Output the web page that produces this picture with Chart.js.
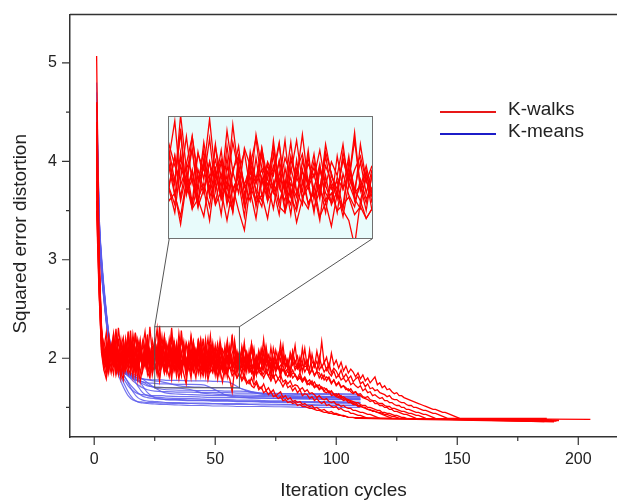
<!DOCTYPE html>
<html lang="en">
<head>
<meta charset="UTF-8">
<title>K-walks vs K-means</title>
<script src="https://cdn.jsdelivr.net/npm/chart.js"></script>
<style>
  body { margin: 0; background: #fff; }
  #wrap { position: relative; width: 617px; height: 504px; overflow: hidden; }
  #inset { position: absolute; border: 1px solid #707070; background: #e8fbfb; }
  #inset canvas { display: block; }
  .lg-line { position: absolute; left: 440px; width: 56px; height: 1.5px; }
  .lg-text { position: absolute; left: 508px; font: 19px 'Liberation Sans', Arial, sans-serif; line-height: 22px; color: #222; white-space: nowrap; }
</style>
</head>
<body>
<div id="wrap">
  <canvas id="main" width="617" height="504"></canvas>
  <div id="inset"><canvas id="zoom"></canvas></div>
  <div class="lg-line" style="top:111px; background:#e81818;"></div>
  <div class="lg-text" style="top:98px;">K-walks</div>
  <div class="lg-line" style="top:133px; background:#1c1cc8;"></div>
  <div class="lg-text" style="top:120px;">K-means</div>
</div>
<script>
// K-walks runs: squared error at iteration 1, 2, 3, ...
const kw01 = [5.07,3.02,2.21,2.05,1.93,2.12,1.98,2.17,1.91,2.06,
  1.89,2.14,2.01,2.22,1.94,2.08,1.87,2.03,2.19,1.96, 2.11,1.92,2.06,1.85,2.15,1.99,2.24,1.93,2.05,1.88,
  2.09,1.95,2.18,1.90,2.02,1.84,2.12,1.97,2.07,1.86, 2.01,1.93,2.13,1.88,1.99,1.82,2.05,1.91,1.96,1.85,
  1.95,1.88,1.93,1.84,1.87,1.91,1.82,1.86,1.80,1.85, 1.79,1.83,1.77,1.74,1.80,1.73,1.77,1.71,1.69,1.74,
  1.67,1.70,1.65,1.68,1.62,1.64,1.66,1.60,1.62,1.58, 1.60,1.56,1.57,1.55,1.56,1.53,1.54,1.52,1.51,1.52,
  1.49,1.50,1.48,1.47,1.48,1.46,1.45,1.46,1.44,1.44, 1.43,1.42,1.42,1.41,1.40];
const kw02 = [4.30,2.88,2.34,1.97,2.16,1.92,2.08,2.25,1.95,2.03,
  2.19,1.90,2.10,1.98,2.28,1.94,2.07,1.89,2.15,2.02, 1.93,2.20,2.05,1.91,2.11,2.30,1.97,2.06,1.88,2.14,
  2.00,2.21,1.94,2.09,1.87,2.03,2.17,1.92,2.05,1.98, 2.13,1.89,2.04,2.19,1.93,2.01,1.86,2.10,1.96,2.03,
  1.90,2.12,1.95,1.99,1.85,2.06,1.93,1.97,1.88,2.02, 1.93,1.87,1.96,1.90,1.85,1.92,1.83,1.88,1.86,1.80,
  1.86,1.82,1.77,1.83,1.75,1.79,1.76,1.71,1.76,1.70, 1.72,1.67,1.70,1.65,1.68,1.62,1.64,1.63,1.59,1.61,
  1.57,1.59,1.56,1.54,1.56,1.52,1.53,1.51,1.50,1.51, 1.48,1.49,1.47,1.46,1.46,1.44,1.44,1.43,1.42,1.42,
  1.41,1.40,1.39];
const kw03 = [3.90,2.95,2.18,2.02,1.88,2.07,1.95,1.84,2.10,1.97,
  2.04,1.86,2.16,1.92,1.99,1.81,2.08,1.94,2.13,1.87, 2.01,1.90,2.06,1.83,1.96,2.12,1.89,2.03,1.85,1.98,
  2.15,1.91,1.99,1.82,2.07,1.94,2.02,1.88,2.10,1.93, 1.86,2.04,1.96,2.09,1.84,1.98,1.91,2.05,1.87,1.95,
  2.08,1.89,1.97,1.83,2.03,1.92,1.86,2.00,1.90,1.96, 1.84,2.01,1.89,1.94,1.85,1.95,1.88,1.92,1.86,1.84,
  1.90,1.82,1.87,1.80,1.84,1.79,1.83,1.76,1.78,1.74, 1.77,1.71,1.73,1.72,1.68,1.70,1.66,1.68,1.64,1.65,
  1.63,1.60,1.62,1.59,1.58,1.59,1.56,1.55,1.56,1.53, 1.53,1.51,1.52,1.50,1.49,1.49,1.47,1.47,1.46,1.45,
  1.45,1.44,1.43,1.43,1.42,1.41,1.40,1.39];
const kw04 = [4.60,3.10,2.27,2.11,1.99,2.23,2.04,2.18,1.96,2.31,
  2.08,1.97,2.20,2.03,2.14,1.93,2.26,2.06,1.99,2.17, 2.02,2.24,1.95,2.12,2.07,1.98,2.33,2.05,2.15,1.94,
  2.19,2.01,2.10,1.96,2.25,2.04,1.93,2.16,2.07,2.21, 1.97,2.09,2.02,2.18,1.94,2.12,2.00,2.23,1.98,2.06,
  1.95,2.14,2.03,1.92,2.11,1.99,2.20,1.96,2.07,1.93, 2.09,1.97,2.04,1.90,2.13,1.95,2.02,1.89,2.08,1.97,
  2.03,1.94,1.99,1.91,1.96,1.89,1.93,1.92,1.86,1.90, 1.84,1.88,1.82,1.80,1.85,1.78,1.81,1.76,1.78,1.73,
  1.76,1.71,1.73,1.69,1.70,1.68,1.65,1.67,1.63,1.64, 1.61,1.62,1.59,1.58,1.57,1.56,1.54,1.55,1.52,1.52,
  1.50,1.50,1.48,1.48,1.46,1.46,1.45,1.44,1.43,1.42, 1.41,1.40,1.39];
const kw05 = [3.60,2.70,2.12,1.94,1.83,2.01,1.90,2.09,1.86,1.97,
  1.80,2.04,1.93,1.85,2.11,1.89,1.98,1.78,2.02,1.91, 2.07,1.84,1.96,1.88,2.13,1.92,1.81,2.00,1.87,2.05,
  1.95,1.79,2.03,1.90,1.97,1.83,2.08,1.86,1.94,1.80, 2.01,1.89,1.95,1.82,2.06,1.91,1.84,1.99,1.88,1.93,
  1.79,2.02,1.87,1.94,1.81,1.98,1.90,1.85,2.04,1.88, 1.92,1.80,1.97,1.86,1.91,1.78,1.99,1.87,1.83,1.95,
  1.85,1.90,1.79,1.96,1.86,1.93,1.85,1.89,1.83,1.87, 1.81,1.85,1.84,1.78,1.82,1.76,1.80,1.75,1.73,1.77,
  1.71,1.73,1.69,1.71,1.67,1.69,1.65,1.66,1.64,1.62, 1.64,1.60,1.61,1.59,1.58,1.57,1.56,1.55,1.55,1.53,
  1.52,1.52,1.50,1.50,1.49,1.48,1.47,1.47,1.45,1.45, 1.44,1.44,1.43,1.42,1.42,1.41,1.40,1.40,1.39];
const kw06 = [4.10,2.92,2.26,2.08,1.95,2.17,2.01,1.92,2.21,2.05,
  1.96,2.13,1.90,2.27,2.02,2.10,1.94,2.19,2.06,1.98, 2.15,1.93,2.32,2.04,1.97,2.12,1.91,2.08,2.22,1.99,
  2.06,1.92,2.17,2.01,1.95,2.28,2.03,1.90,2.11,2.00, 2.16,1.94,2.07,1.98,2.20,1.92,2.05,2.13,1.96,2.09,
  1.93,2.18,2.02,1.95,2.10,1.99,2.24,1.94,2.04,1.91, 2.12,1.97,2.06,1.90,2.15,2.00,1.93,2.08,1.96,2.19,
  1.95,2.03,1.89,2.10,1.98,1.92,2.07,1.94,2.01,1.90, 2.02,1.93,1.97,1.90,1.95,1.88,1.92,1.91,1.84,1.89,
  1.83,1.87,1.80,1.84,1.78,1.81,1.79,1.74,1.78,1.72, 1.75,1.70,1.72,1.68,1.69,1.66,1.64,1.66,1.62,1.62,
  1.60,1.59,1.58,1.56,1.57,1.54,1.54,1.52,1.52,1.50, 1.50,1.48,1.48,1.46,1.46,1.45,1.44,1.43,1.43,1.42,
  1.41,1.40,1.39];
const kw07 = [3.80,2.80,2.15,1.99,2.10,1.87,2.03,1.94,2.14,1.89,
  2.00,1.85,2.09,1.96,1.88,2.18,1.93,2.04,1.84,1.99, 1.91,2.12,1.87,2.02,1.95,1.83,2.07,1.97,2.16,1.90,
  1.98,1.86,2.05,1.92,2.11,1.88,1.99,1.81,2.04,1.95, 1.89,2.08,1.93,2.00,1.84,2.06,1.94,1.87,2.12,1.91,
  1.97,1.83,2.03,1.92,1.86,2.09,1.95,1.89,2.01,1.84, 1.99,1.90,2.05,1.87,1.96,1.82,2.02,1.93,1.88,2.07,
  1.91,1.97,1.84,2.00,1.89,1.94,1.80,2.03,1.90,1.95, 1.85,1.98,1.88,1.93,1.86,1.95,1.86,1.91,1.84,1.89,
  1.82,1.86,1.85,1.79,1.83,1.77,1.81,1.75,1.78,1.73, 1.76,1.71,1.72,1.70,1.67,1.69,1.65,1.66,1.63,1.64,
  1.61,1.60,1.61,1.58,1.57,1.57,1.55,1.54,1.54,1.52, 1.51,1.51,1.49,1.49,1.48,1.47,1.46,1.46,1.45,1.44,
  1.44,1.43,1.42,1.42,1.41,1.40,1.39];
const kw08 = [4.40,3.05,2.30,2.06,1.93,2.14,2.00,2.24,1.91,2.07,
  1.98,2.16,1.89,2.05,2.21,1.95,2.09,1.88,2.13,2.01, 1.94,2.19,2.03,1.90,2.08,1.97,2.26,1.92,2.04,1.86,
  2.11,1.99,2.06,1.91,2.17,1.95,2.02,1.87,2.14,1.98, 2.05,1.92,2.20,1.96,1.89,2.10,2.01,1.94,2.15,1.90,
  2.06,1.97,1.88,2.12,1.95,2.03,1.91,2.18,1.99,1.93, 2.08,1.89,2.02,1.96,2.14,1.92,1.98,1.87,2.09,1.95,
  2.01,1.90,2.11,1.94,1.88,2.05,1.97,2.13,1.92,1.99, 1.86,2.07,1.95,2.02,1.89,2.10,1.93,1.98,1.88,2.04,
  1.91,1.97,1.88,1.93,1.86,1.90,1.85,1.82,1.87,1.80, 1.83,1.78,1.80,1.76,1.79,1.73,1.75,1.72,1.70,1.72,
  1.67,1.69,1.65,1.66,1.62,1.63,1.61,1.59,1.60,1.57, 1.57,1.55,1.55,1.53,1.52,1.52,1.50,1.50,1.48,1.48,
  1.47,1.46,1.45,1.45,1.44,1.43,1.43,1.42,1.41,1.40,1.39];
const kw09 = [3.50,2.66,2.09,1.91,2.05,1.86,2.11,1.93,1.99,1.84,
  2.07,1.95,1.88,2.13,1.90,2.02,1.85,1.97,2.10,1.89, 2.04,1.92,1.83,2.08,1.96,1.87,2.14,1.93,2.00,1.86,
  1.95,2.09,1.88,2.03,1.91,1.84,2.06,1.97,1.89,2.11, 1.92,1.98,1.85,2.04,1.94,1.87,2.10,1.90,1.99,1.83,
  2.05,1.93,1.88,2.01,1.95,2.12,1.89,1.97,1.84,2.03, 1.92,1.98,1.86,2.07,1.91,1.95,1.83,2.02,1.94,1.88,
  2.09,1.90,1.96,1.85,2.00,1.93,1.87,2.04,1.91,1.97, 1.84,2.06,1.92,1.89,2.01,1.86,1.98,1.90,2.08,1.88,
  1.95,1.87,2.02,1.91,1.96,1.88,1.95,1.85,1.90,1.87, 1.82,1.88,1.80,1.84,1.79,1.82,1.76,1.79,1.81,1.74,
  1.76,1.71,1.74,1.69,1.70,1.67,1.68,1.65,1.64,1.63, 1.61,1.62,1.59,1.58,1.58,1.56,1.55,1.55,1.53,1.52,
  1.52,1.50,1.50,1.49,1.48,1.47,1.47,1.46,1.45,1.44, 1.44,1.43,1.42,1.41,1.40,1.39];
const kw10 = [4.00,2.85,2.24,2.03,1.92,2.15,1.98,2.08,1.90,2.20,
  1.96,2.05,2.17,1.93,2.09,1.99,2.25,1.94,2.03,1.91, 2.13,2.00,1.95,2.18,2.06,1.92,2.11,1.97,2.22,2.02,
  1.93,2.09,1.98,2.15,1.90,2.05,2.12,1.96,2.01,1.89, 2.16,2.00,1.94,2.10,1.97,2.19,1.93,2.04,1.98,2.13,
  1.92,2.07,1.99,1.90,2.14,2.01,1.95,2.09,1.93,2.05, 1.97,2.16,1.92,2.03,1.96,2.10,1.89,2.06,1.99,1.94,
  2.12,1.95,2.01,1.91,2.08,1.97,2.15,1.93,2.02,1.90, 2.06,1.98,2.13,1.92,2.00,1.95,2.10,1.91,2.04,1.97,
  1.92,2.07,1.94,2.17,1.95,2.01,1.89,2.05,1.93,1.98, 1.90,1.96,1.87,1.92,1.85,1.89,1.86,1.81,1.85,1.79,
  1.83,1.77,1.80,1.75,1.78,1.81,1.73,1.75,1.70,1.72, 1.68,1.69,1.66,1.64,1.65,1.62,1.62,1.60,1.59,1.58,
  1.57,1.56,1.55,1.54,1.53,1.52,1.51,1.50,1.49,1.48, 1.48,1.47,1.46,1.45,1.45,1.44,1.43,1.42,1.41,1.40,1.39];
const kw11 = [3.70,2.74,2.06,1.88,1.79,1.97,1.85,2.02,1.83,1.94,
  1.87,1.78,2.00,1.90,1.84,2.06,1.82,1.95,1.76,1.91, 1.99,1.86,1.80,2.03,1.89,1.93,1.77,1.98,1.85,1.90,
  1.81,2.01,1.87,1.94,1.79,1.96,1.84,1.74,1.97,1.88, 1.92,1.80,1.99,1.86,1.83,1.95,1.78,1.90,1.85,1.97,
  1.81,1.88,1.76,1.93,1.84,1.79,1.66,1.89,1.80,1.85, 1.77,1.81,1.74,1.78,1.72,1.70,1.75,1.68,1.71,1.65,
  1.67,1.63,1.66,1.61,1.62,1.59,1.61,1.57,1.58,1.55, 1.56,1.54,1.55,1.52,1.53,1.51,1.51,1.50,1.49,1.49,
  1.48,1.47,1.47,1.46,1.45,1.45,1.44,1.44,1.43,1.43, 1.42,1.42,1.41,1.41,1.40,1.40,1.40,1.39,1.39];
const kw12 = [4.20,2.98,2.29,2.10,2.26,1.99,2.15,2.04,2.30,1.97,
  2.12,2.21,1.98,2.08,1.95,2.24,2.05,2.16,1.99,2.11, 2.27,2.02,2.09,1.96,2.18,2.07,2.00,2.22,1.98,2.13,
  2.05,2.31,2.01,2.10,1.97,2.19,2.04,2.14,1.95,2.23, 2.06,2.00,2.17,1.96,2.11,2.03,2.20,1.98,2.08,2.01,
  2.15,1.97,2.09,2.02,2.18,1.96,2.05,2.12,1.99,2.07, 1.95,2.10,2.04,1.96,2.08,1.99,1.94,2.03,1.97,1.92,
  2.00,1.93,1.89,1.95,1.88,1.91,1.84,1.89,1.85,1.81, 1.87,1.80,1.83,1.78,1.80,1.76,1.79,1.73,1.75,1.74,
  1.70,1.72,1.68,1.70,1.66,1.65,1.67,1.62,1.63,1.61, 1.60,1.59,1.57,1.58,1.55,1.55,1.53,1.53,1.51,1.51,
  1.50,1.49,1.48,1.47,1.47,1.46,1.45,1.45,1.44,1.43, 1.43,1.42,1.41,1.41,1.40,1.39];
const walkRuns = [kw01, kw02, kw03, kw04, kw05, kw06, kw07, kw08, kw09, kw10, kw11, kw12];
// last iteration of each run and its final error (flat tail)
const walkEnd  = [190, 188, 192, 185, 190, 205, 189, 191, 187, 192, 186, 186];
const walkLast = [1.358, 1.376, 1.366, 1.384, 1.355, 1.38, 1.372, 1.362, 1.388, 1.37, 1.357, 1.381];

// K-means runs, sampled at these iterations
const meansIter = [1,2,3,4,5,6,7,8,9,10,12,14,16,18,20,22,25,28,30,35,40,45,50,55,60,65,70,80,90,100,110];
const km01 = [4.6,3.4,2.95,2.65,2.40,2.20,2.06,1.97,1.91,1.86,1.76,1.66,1.59,1.555,1.545,1.54,1.535,1.53,1.53,1.525,1.52,1.52,1.515,1.515,1.51,1.51,1.51,1.505,1.50,1.50,1.50];
const km02 = [4.4,3.3,2.9,2.62,2.38,2.19,2.05,1.97,1.92,1.89,1.84,1.75,1.66,1.60,1.575,1.565,1.56,1.555,1.55,1.55,1.545,1.545,1.54,1.54,1.54,1.535,1.535,1.53,1.53,1.525,1.525];
const km03 = [4.5,3.45,3.0,2.7,2.45,2.24,2.09,1.99,1.94,1.91,1.88,1.85,1.80,1.72,1.65,1.62,1.605,1.60,1.595,1.59,1.59,1.585,1.58,1.58,1.575,1.575,1.57,1.565,1.56,1.56,1.555];
const km04 = [4.3,3.35,2.92,2.64,2.40,2.21,2.07,1.98,1.93,1.90,1.87,1.85,1.83,1.79,1.72,1.65,1.60,1.585,1.58,1.575,1.57,1.57,1.565,1.565,1.56,1.56,1.555,1.55,1.55,1.545,1.545];
const km05 = [4.7,3.5,3.05,2.74,2.48,2.26,2.10,2.00,1.95,1.92,1.89,1.86,1.84,1.82,1.79,1.75,1.70,1.66,1.645,1.635,1.63,1.625,1.62,1.62,1.615,1.61,1.61,1.605,1.60,1.60,1.595];
const km06 = [4.2,3.3,2.88,2.60,2.36,2.18,2.04,1.96,1.91,1.88,1.85,1.83,1.81,1.80,1.79,1.785,1.78,1.78,1.775,1.775,1.77,1.77,1.765,1.76,1.70,1.65,1.64,1.635,1.63,1.63,1.625];
const km07 = [4.5,3.4,2.96,2.67,2.42,2.22,2.08,1.98,1.93,1.90,1.86,1.82,1.79,1.77,1.76,1.75,1.745,1.74,1.74,1.735,1.735,1.73,1.68,1.62,1.605,1.60,1.595,1.59,1.585,1.58,1.58];
const km08 = [4.6,3.45,3.0,2.7,2.44,2.23,2.08,1.98,1.92,1.88,1.80,1.72,1.67,1.64,1.63,1.625,1.62,1.62,1.615,1.61,1.61,1.605,1.60,1.60,1.60,1.595,1.595,1.59,1.59,1.585,1.58];
const km09 = [4.4,3.38,2.94,2.65,2.41,2.21,2.07,1.98,1.93,1.90,1.87,1.84,1.81,1.78,1.76,1.73,1.70,1.685,1.68,1.675,1.675,1.67,1.67,1.665,1.665,1.66,1.64,1.605,1.60,1.595,1.59];
const km10 = [4.3,3.32,2.90,2.62,2.39,2.20,2.06,1.97,1.92,1.89,1.86,1.83,1.80,1.77,1.74,1.72,1.71,1.705,1.70,1.695,1.68,1.645,1.635,1.63,1.625,1.625,1.62,1.615,1.61,1.61,1.605];
const km11 = [4.8,3.5,3.02,2.72,2.46,2.25,2.09,1.98,1.90,1.83,1.71,1.62,1.575,1.56,1.555,1.55,1.55,1.545,1.545,1.54,1.54,1.535,1.535,1.53,1.53,1.53,1.525,1.525,1.52,1.52,1.52];
const km12 = [4.5,3.42,2.97,2.68,2.43,2.22,2.07,1.98,1.93,1.90,1.86,1.82,1.77,1.73,1.70,1.68,1.665,1.66,1.66,1.655,1.655,1.65,1.65,1.65,1.645,1.645,1.645,1.64,1.64,1.64,1.635];
const km13 = [4.2,3.28,2.87,2.59,2.36,2.17,2.04,1.96,1.91,1.89,1.86,1.84,1.82,1.80,1.79,1.78,1.77,1.76,1.75,1.72,1.71,1.705,1.70,1.70,1.695,1.66,1.63,1.62,1.615,1.61,1.61];
const km14 = [4.6,3.46,3.0,2.7,2.45,2.24,2.09,1.99,1.93,1.89,1.83,1.76,1.70,1.65,1.615,1.60,1.59,1.585,1.58,1.58,1.575,1.575,1.57,1.57,1.565,1.565,1.56,1.56,1.555,1.55,1.55];
const meansRuns = [km01, km02, km03, km04, km05, km06, km07, km08, km09, km10, km11, km12, km13, km14];

const iterTicks = [0, 50, 100, 150, 200];
const iterMinor = [25, 75, 125, 175];
const errTicks = [2, 3, 4, 5];
const errMinor = [1.5, 2.5, 3.5, 4.5];

// zoomed window (data units) and where the inset sits (data units of main plot)
const zoomX = [25, 60], zoomY = [1.70, 2.32];
const insetX = [31, 115], insetY = [3.215, 4.445];

const RED = '#ff0000';
const BLUE = 'rgba(92, 92, 236, 0.85)';
const FONT = "'Liberation Sans', Arial, Helvetica, sans-serif";
Chart.defaults.font.family = FONT;
Chart.defaults.color = '#222';

function walkSets() {
  return walkRuns.map((run, k) => {
    const pts = run.map((v, i) => ({ x: i + 1, y: v }));
    pts.push({ x: walkEnd[k], y: walkLast[k] });
    return { label: k === 0 ? 'K-walks' : '', data: pts, borderColor: RED, borderWidth: 1.3, pointRadius: 0, tension: 0 };
  });
}
function meansSets() {
  return meansRuns.map((run, k) => ({
    label: k === 0 ? 'K-means' : '',
    data: run.map((v, i) => ({ x: meansIter[i], y: v })),
    borderColor: BLUE, borderWidth: 1.2, pointRadius: 0, cubicInterpolationMode: 'monotone'
  }));
}

const frame = {
  id: 'frame',
  afterDraw(chart) {
    const { ctx, chartArea: a, scales: { x, y } } = chart;
    ctx.save();
    ctx.strokeStyle = '#333';
    ctx.lineWidth = 1.5;
    ctx.beginPath();
    ctx.moveTo(a.left, a.top); ctx.lineTo(a.right, a.top);
    ctx.stroke();
    ctx.lineWidth = 1.2;
    ctx.beginPath();
    iterTicks.forEach(v => { const p = x.getPixelForValue(v); ctx.moveTo(p, a.bottom); ctx.lineTo(p, a.bottom + 8); });
    iterMinor.forEach(v => { const p = x.getPixelForValue(v); ctx.moveTo(p, a.bottom); ctx.lineTo(p, a.bottom + 4); });
    errTicks.forEach(v => { const p = y.getPixelForValue(v); ctx.moveTo(a.left, p); ctx.lineTo(a.left - 8, p); });
    errMinor.forEach(v => { const p = y.getPixelForValue(v); ctx.moveTo(a.left, p); ctx.lineTo(a.left - 4, p); });
    ctx.stroke();

    // source window and connectors to the inset
    const zl = x.getPixelForValue(zoomX[0]), zr = x.getPixelForValue(zoomX[1]);
    const zt = y.getPixelForValue(zoomY[1]), zb = y.getPixelForValue(zoomY[0]);
    const il = x.getPixelForValue(insetX[0]), ir = x.getPixelForValue(insetX[1]);
    const ib = y.getPixelForValue(insetY[0]);
    ctx.strokeStyle = '#555';
    ctx.lineWidth = 1;
    ctx.strokeRect(zl, zt, zr - zl, zb - zt);
    ctx.beginPath();
    ctx.moveTo(zl, zt); ctx.lineTo(il, ib);
    ctx.moveTo(zr, zt); ctx.lineTo(ir, ib);
    ctx.stroke();

    // y axis title, sitting a little below the plot's middle as in the original
    ctx.fillStyle = '#222';
    ctx.font = '19px ' + FONT;
    ctx.textAlign = 'center';
    ctx.textBaseline = 'middle';
    ctx.translate(21, (a.top + a.bottom) / 2 + 8);
    ctx.rotate(-Math.PI / 2);
    ctx.fillText('Squared error distortion', 0, 0);
    ctx.restore();
  }
};

const main = new Chart(document.getElementById('main'), {
  type: 'line',
  data: { datasets: walkSets().concat(meansSets()) },
  plugins: [frame],
  options: {
    animation: false,
    responsive: false,
    layout: { padding: { top: 8, right: 0, bottom: 0, left: 0 } },
    plugins: { legend: { display: false }, tooltip: { enabled: false } },
    scales: {
      x: {
        type: 'linear', min: -10, max: 216,
        afterFit: s => { s.height = 67; },
        afterBuildTicks: s => { s.ticks = iterTicks.map(v => ({ value: v })); },
        grid: { drawOnChartArea: false, tickLength: 8, tickColor: 'rgba(0,0,0,0)' },
        border: { color: '#333', width: 1.5 },
        ticks: { padding: 5, maxRotation: 0, font: { size: 16 }, color: '#222' },
        title: { display: true, text: 'Iteration cycles', font: { size: 19 }, color: '#222', padding: { top: 0, bottom: 2 } }
      },
      y: {
        type: 'linear', min: 1.2, max: 5.49,
        afterFit: s => { s.width = 70; },
        afterBuildTicks: s => { s.ticks = errTicks.map(v => ({ value: v })); },
        grid: { drawOnChartArea: false, tickLength: 8, tickColor: 'rgba(0,0,0,0)' },
        border: { color: '#333', width: 1.5 },
        ticks: { padding: 5, font: { size: 16 }, color: '#222' }
      }
    }
  }
});

// place the inset over the main plot
const sx = main.scales.x, sy = main.scales.y;
const iL = sx.getPixelForValue(insetX[0]), iR = sx.getPixelForValue(insetX[1]);
const iT = sy.getPixelForValue(insetY[1]), iB = sy.getPixelForValue(insetY[0]);
const box = document.getElementById('inset');
box.style.left = (Math.round(iL) - 1) + 'px';
box.style.top = (Math.round(iT) - 1) + 'px';
const zc = document.getElementById('zoom');
zc.width = Math.round(iR - iL);
zc.height = Math.round(iB - iT);

new Chart(zc, {
  type: 'line',
  data: { datasets: walkSets() },
  options: {
    animation: false,
    responsive: false,
    layout: { padding: 0 },
    plugins: { legend: { display: false }, tooltip: { enabled: false } },
    scales: {
      x: { type: 'linear', display: false, min: zoomX[0], max: zoomX[1] },
      y: { type: 'linear', display: false, min: zoomY[0], max: zoomY[1] }
    }
  }
});
</script>
</body>
</html>
